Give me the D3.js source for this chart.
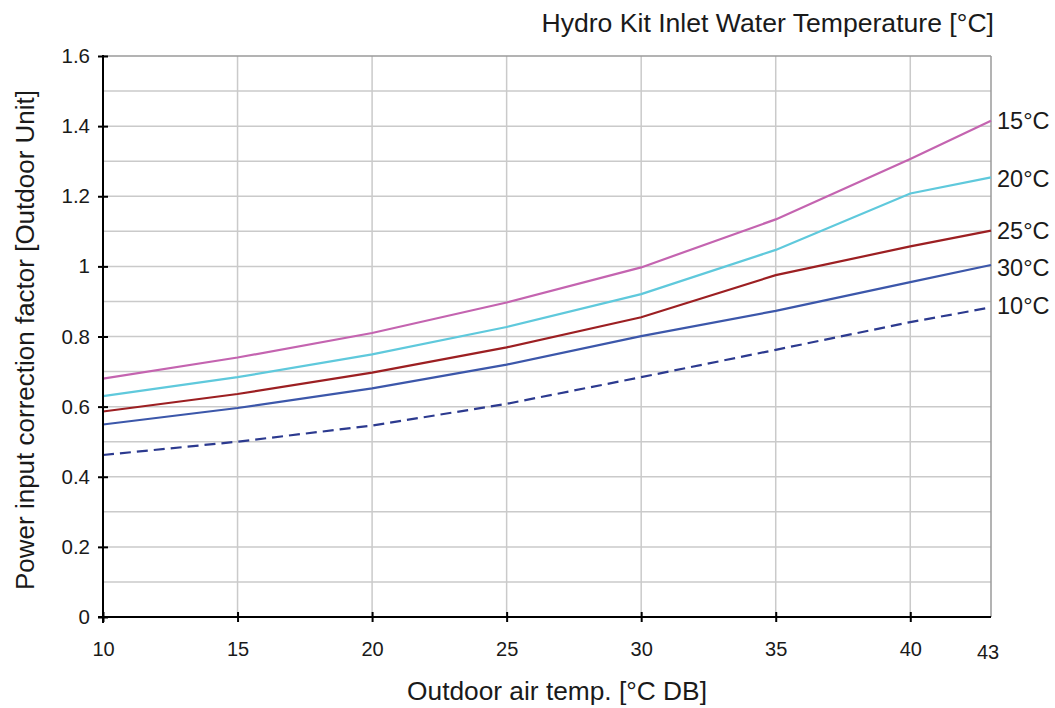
<!DOCTYPE html>
<html>
<head>
<meta charset="utf-8">
<script src="https://cdn.jsdelivr.net/npm/d3@7/dist/d3.min.js"></script>
<style>
  html, body { margin: 0; padding: 0; background: #fff; }
  svg text { font-family: "Liberation Sans", Arial, Helvetica, sans-serif; fill: #1a1a1a; }
</style>
</head>
<body>
<svg id="chart" width="1055" height="708"></svg>
<script>
// ---- data ----
const xValues = [10, 15, 20, 25, 30, 35, 40, 43];
const xTickLabels = ["10", "15", "20", "25", "30", "35", "40"];
const yTickValues = [0, 0.2, 0.4, 0.6, 0.8, 1, 1.2, 1.4, 1.6];
const yTickLabels = ["0", "0.2", "0.4", "0.6", "0.8", "1", "1.2", "1.4", "1.6"];
const seriesNames = ["15°C", "20°C", "25°C", "30°C", "10°C"];
const s15 = [0.680, 0.740, 0.810, 0.897, 0.997, 1.134, 1.306, 1.415];
const s20 = [0.630, 0.684, 0.749, 0.827, 0.921, 1.047, 1.208, 1.254];
const s25 = [0.586, 0.636, 0.697, 0.769, 0.855, 0.975, 1.057, 1.102];
const s30 = [0.549, 0.596, 0.652, 0.720, 0.801, 0.873, 0.955, 1.004];
const s10 = [0.462, 0.500, 0.546, 0.608, 0.684, 0.762, 0.841, 0.883];
const seriesValues = [s15, s20, s25, s30, s10];
const seriesColors = ["#c464b0", "#5fc9dc", "#9c1f22", "#3c57aa", "#2c3a8f"];
const seriesDashed = [false, false, false, false, true];
const labelYOffsets = [0, 1, 0, 3, -2];

// ---- layout ----
const svg = d3.select("#chart");
const m = { left: 103, right: 991, top: 56, bottom: 617 };
const x = d3.scaleLinear().domain([10, 43]).range([m.left, m.right]);
const y = d3.scaleLinear().domain([0, 1.6]).range([m.bottom, m.top]);

// grid
const gGrid = svg.append("g");
gGrid.selectAll("line.h").data(d3.range(1, 16).map(i => i / 10))
  .enter().append("line")
  .attr("x1", m.left).attr("x2", m.right)
  .attr("y1", d => y(d)).attr("y2", d => y(d))
  .attr("stroke", "#cacaca").attr("stroke-width", 1.5);
gGrid.selectAll("line.v").data([15, 20, 25, 30, 35, 40])
  .enter().append("line")
  .attr("y1", m.top).attr("y2", m.bottom)
  .attr("x1", d => x(d)).attr("x2", d => x(d))
  .attr("stroke", "#cacaca").attr("stroke-width", 1.5);
// top & right border
svg.append("line").attr("x1", m.left).attr("x2", m.right).attr("y1", m.top).attr("y2", m.top)
  .attr("stroke", "#9a9a9a").attr("stroke-width", 1.5);
svg.append("line").attr("x1", m.right).attr("x2", m.right).attr("y1", m.top).attr("y2", m.bottom)
  .attr("stroke", "#9a9a9a").attr("stroke-width", 1.5);

// series
const line = d3.line().x((d, i) => x(xValues[i])).y(d => y(d)).curve(d3.curveLinear);
seriesValues.forEach((vals, k) => {
  svg.append("path").datum(vals)
    .attr("d", line)
    .attr("fill", "none")
    .attr("stroke", seriesColors[k])
    .attr("stroke-width", 2.2)
    .attr("stroke-dasharray", seriesDashed[k] ? "11,6" : null);
  svg.append("text")
    .attr("x", 997)
    .attr("y", y(vals[vals.length - 1]) + labelYOffsets[k])
    .attr("dy", "0.36em")
    .style("font-size", "23.5px")
    .text(seriesNames[k]);
});

// y axis
const yAxis = d3.axisLeft(y).tickValues(yTickValues)
  .tickFormat((d, i) => yTickLabels[i]).tickSize(5).tickPadding(9);
const gy = svg.append("g").attr("transform", `translate(${m.left},0)`).call(yAxis);
gy.attr("font-size", null).attr("font-family", null);
gy.select(".domain").remove();
gy.selectAll(".tick line").attr("x1", 5).attr("x2", -5).attr("stroke", "#000").attr("stroke-width", 2);
gy.selectAll(".tick text").style("font-size", "20.5px").attr("fill", "#1a1a1a").attr("x", -13);
svg.append("line").attr("x1", m.left).attr("x2", m.left).attr("y1", m.top - 1).attr("y2", m.bottom + 6)
  .attr("stroke", "#000").attr("stroke-width", 2);

// x axis
const xAxis = d3.axisBottom(x).tickValues(xValues.slice(0, 7))
  .tickFormat((d, i) => xTickLabels[i]).tickSize(5).tickPadding(20);
const gx = svg.append("g").attr("transform", `translate(0,${m.bottom})`).call(xAxis);
gx.attr("font-size", null).attr("font-family", null);
gx.select(".domain").remove();
gx.selectAll(".tick line").attr("y1", -5).attr("y2", 5).attr("stroke", "#000").attr("stroke-width", 2);
gx.selectAll(".tick text").style("font-size", "20px").attr("fill", "#1a1a1a");
svg.append("line").attr("x1", m.left - 5).attr("x2", m.right).attr("y1", m.bottom).attr("y2", m.bottom)
  .attr("stroke", "#000").attr("stroke-width", 2);
// 43 label
svg.append("text").attr("x", x(43) - 3).attr("y", 659).attr("text-anchor", "middle")
  .style("font-size", "20px").text(String(xValues[7]));

// titles
svg.append("text").attr("x", 557).attr("y", 700).attr("text-anchor", "middle")
  .style("font-size", "26.3px").text("Outdoor air temp. [°C DB]");
svg.append("text").attr("transform", "translate(34,340) rotate(-90)").attr("text-anchor", "middle")
  .style("font-size", "26px").text("Power input correction factor [Outdoor Unit]");
svg.append("text").attr("x", 994).attr("y", 32).attr("text-anchor", "end")
  .style("font-size", "26.6px").text("Hydro Kit Inlet Water Temperature [°C]");
</script>
</body>
</html>
